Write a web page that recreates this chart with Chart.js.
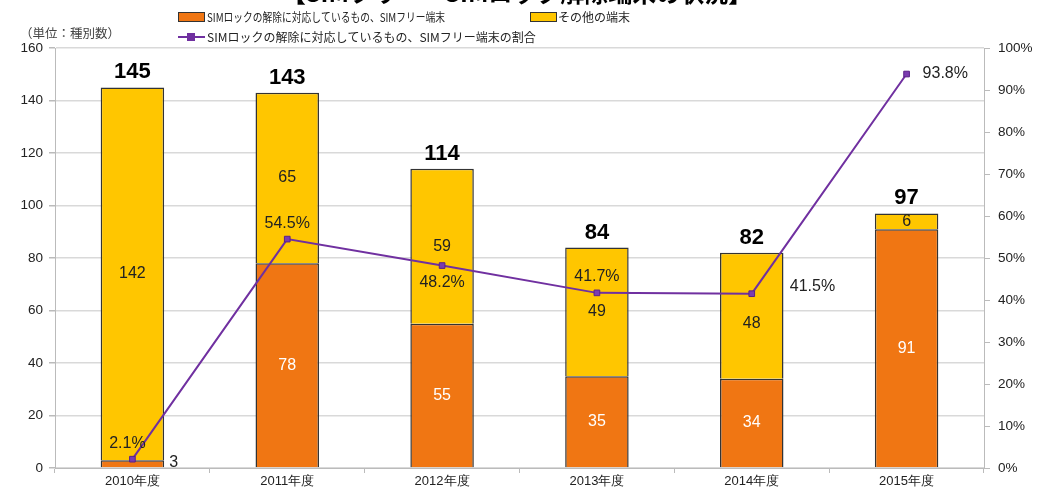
<!DOCTYPE html>
<html>
<head>
<meta charset="utf-8">
<script src="https://cdn.jsdelivr.net/npm/chart.js@4"></script>
<style>
  body { margin: 0; background: #fff; }
  #wrap { width: 1053px; height: 489px; }
</style>
</head>
<body>
<div id="wrap"><canvas id="mycanvas"></canvas></div>
<script>
// data
var categories = ['2010年度', '2011年度', '2012年度', '2013年度', '2014年度', '2015年度'];
var simFree = [3, 78, 55, 35, 34, 91];
var others = [142, 65, 59, 49, 48, 6];
var simFreeRatio = [2.1, 54.5, 48.2, 41.7, 41.5, 93.8];
var leftMax = 160, leftStep = 20;
var rightMax = 100, rightStep = 10;

var titleText = '【SIMフリー・SIMロック解除端末の状況】';
var unitText = '（単位：種別数）';
var labelSimFree = 'SIMロックの解除に対応しているもの、SIMフリー端末';
var labelOthers = 'その他の端末';
var labelRatio = 'SIMロックの解除に対応しているもの、SIMフリー端末の割合';

var ORANGE = '#F07613';
var YELLOW = '#FFC600';
var PURPLE = '#7030A0';
var NUM_FONT = '"Liberation Sans", Arial, sans-serif';
var JP_FONT = '"Noto Sans CJK JP", sans-serif';

// where each percent label goes relative to its point
var ratioPlace = ['above', 'above', 'below', 'above', 'right', 'right'];

var labelsPlugin = {
	id: 'labels',
	afterDraw: function(chart) {
		var ctx = chart.ctx;
		var mSim = chart.getDatasetMeta(0);
		var mOth = chart.getDatasetMeta(1);
		var mLine = chart.getDatasetMeta(2);
		ctx.save();

		// title, mostly cut off at the top
		ctx.font = 'bold 24px ' + JP_FONT;
		ctx.fillStyle = '#000';
		ctx.textAlign = 'center';
		ctx.textBaseline = 'alphabetic';
		ctx.fillText(titleText, 517, 2);

		// legend
		ctx.textAlign = 'left';
		ctx.textBaseline = 'middle';
		ctx.font = '12px ' + JP_FONT;
		ctx.lineWidth = 1;
		ctx.strokeStyle = '#333';
		ctx.fillStyle = ORANGE;
		ctx.fillRect(178, 12, 26, 9);
		ctx.strokeRect(178.5, 12.5, 26, 9);
		ctx.fillStyle = '#222';
		ctx.fillText(labelSimFree, 207, 17, 238);
		ctx.fillStyle = YELLOW;
		ctx.fillRect(530, 12, 26, 9);
		ctx.strokeRect(530.5, 12.5, 26, 9);
		ctx.fillStyle = '#222';
		ctx.fillText(labelOthers, 558, 17, 74);
		ctx.strokeStyle = PURPLE;
		ctx.lineWidth = 2;
		ctx.beginPath();
		ctx.moveTo(178, 37);
		ctx.lineTo(205, 37);
		ctx.stroke();
		ctx.fillStyle = PURPLE;
		ctx.fillRect(187, 33, 8, 8);
		ctx.fillStyle = '#222';
		ctx.fillText(labelRatio, 207, 37, 352);
		ctx.font = '12.5px ' + JP_FONT;
		ctx.fillStyle = '#444';
		ctx.fillText(unitText, 20, 33);

		// bar labels
		ctx.textAlign = 'center';
		for (var i = 0; i < categories.length; i++) {
			var bs = mSim.data[i], bo = mOth.data[i];
			// total above
			ctx.font = 'bold 22px ' + NUM_FONT;
			ctx.fillStyle = '#000';
			ctx.textBaseline = 'bottom';
			ctx.fillText(String(simFree[i] + others[i]), bo.x, bo.y - 4);
			ctx.textBaseline = 'middle';
			ctx.font = '16px ' + NUM_FONT;
			// orange segment
			var hs = bs.base - bs.y;
			if (hs < 18) {
				ctx.fillStyle = '#222';
				ctx.textAlign = 'left';
				ctx.fillText(String(simFree[i]), bs.x + bs.width / 2 + 5, (bs.y + bs.base) / 2 - 1);
				ctx.textAlign = 'center';
			} else {
				ctx.fillStyle = '#fff';
				ctx.fillText(String(simFree[i]), bs.x, (bs.y + bs.base) / 2);
			}
			// yellow segment
			ctx.fillStyle = '#222';
			ctx.fillText(String(others[i]), bo.x, (bo.y + bo.base) / 2 + (ratioPlace[i] === 'right' && i < 5 ? 8 : 0));
		}

		// ratio labels
		ctx.font = '16px ' + NUM_FONT;
		ctx.fillStyle = '#222';
		for (var j = 0; j < categories.length; j++) {
			var p = mLine.data[j];
			var txt = simFreeRatio[j].toFixed(1) + '%';
			if (ratioPlace[j] === 'above') {
				ctx.textAlign = 'center';
				ctx.fillText(txt, p.x - (j === 0 ? 5 : 0), p.y - 16);
			} else if (ratioPlace[j] === 'below') {
				ctx.textAlign = 'center';
				ctx.fillText(txt, p.x, p.y + 17);
			} else {
				ctx.textAlign = 'left';
				ctx.fillText(txt, p.x + (j === 5 ? 16 : 38), p.y - (j === 5 ? 0 : 7));
			}
		}
		ctx.restore();
	}
};

var chartdata = {
	labels: categories,
	datasets: [
		{
			type: 'bar',
			label: labelSimFree,
			data: simFree,
			backgroundColor: ORANGE,
			borderColor: '#333',
			borderWidth: 1.5,
			yAxisID: 'y',
			order: 2
		},
		{
			type: 'bar',
			label: labelOthers,
			data: others,
			backgroundColor: YELLOW,
			borderColor: '#333',
			borderWidth: 1.5,
			yAxisID: 'y',
			order: 2
		},
		{
			type: 'line',
			label: labelRatio,
			data: simFreeRatio,
			borderColor: PURPLE,
			borderWidth: 2,
			pointStyle: 'rect',
			pointRadius: 4,
			pointBackgroundColor: '#7B3CB0',
			pointBorderColor: '#5A2088',
			pointBorderWidth: 1,
			tension: 0,
			yAxisID: 'y1',
			order: 1
		}
	]
};

var ctx = document.getElementById('mycanvas');

var barGraph = new Chart(ctx, {
	data: chartdata,
	plugins: [labelsPlugin],
	options: {
		responsive: true,
		maintainAspectRatio: false,
		animation: false,
		layout: { padding: { top: 48, left: 0, right: 0, bottom: 0 } },
		plugins: {
			legend: { display: false },
			tooltip: { enabled: false }
		},
		datasets: {
			bar: { barPercentage: 1, categoryPercentage: 0.41 }
		},
		scales: {
			x: {
				stacked: true,
				grid: { display: true, drawOnChartArea: false, offset: true, tickLength: 5, color: '#bbb' },
				border: { color: '#bbb' },
				ticks: { color: '#222', font: { family: NUM_FONT, size: 13 }, padding: 1 },
				afterFit: function(s) { s.height = 21; }
			},
			y: {
				stacked: true,
				position: 'left',
				min: 0,
				max: leftMax,
				ticks: { stepSize: leftStep, color: '#222', font: { family: NUM_FONT, size: 13.5 }, padding: 6 },
				grid: { color: '#d9d9d9', lineWidth: 1.5, tickLength: 6, tickColor: '#bbb' },
				border: { color: '#bbb' },
				afterFit: function(s) { s.width = 55; }
			},
			y1: {
				position: 'right',
				min: 0,
				max: rightMax,
				ticks: {
					stepSize: rightStep,
					color: '#222',
					font: { family: NUM_FONT, size: 13.5 },
					padding: 8,
					callback: function(v) { return v + '%'; }
				},
				grid: { drawOnChartArea: false, tickLength: 6, color: '#bbb' },
				border: { color: '#bbb' },
				afterFit: function(s) { s.width = 69; }
			}
		}
	}
});
</script>
</body>
</html>
